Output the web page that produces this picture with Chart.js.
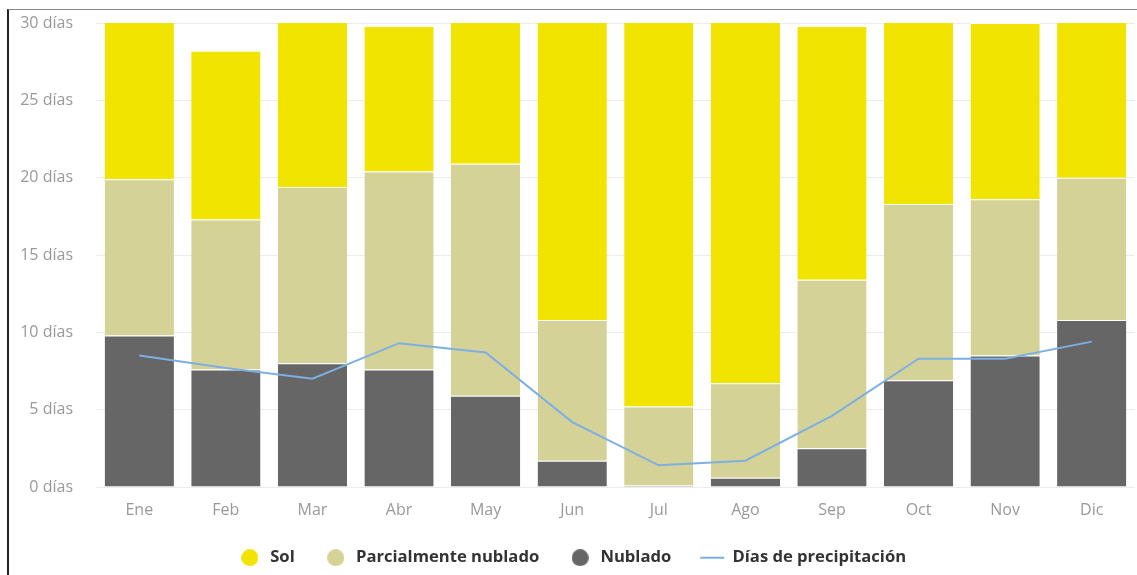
<!DOCTYPE html>
<html lang="es">
<head>
    <meta charset="UTF-8">
    <title>Clima mensual</title>
    <script src="https://cdn.jsdelivr.net/npm/chart.js"></script>
    <style>
        body { margin: 0; background: #fff; }
        .frame {
            position: absolute; left: 7px; top: 9px;
            width: 1128px; height: 565px;
            border-left: 2px solid #222; border-top: 1px solid #888;
        }
    </style>
</head>
<body>
<div class="frame"><canvas id="climaChart" width="1128" height="565"></canvas></div>

<script>
    const meses = ['Ene', 'Feb', 'Mar', 'Abr', 'May', 'Jun', 'Jul', 'Ago', 'Sep', 'Oct', 'Nov', 'Dic'];
    const nublado = [9.8, 7.6, 8.0, 7.6, 5.9, 1.7, 0.1, 0.6, 2.5, 6.9, 8.5, 10.8];
    const parcialmenteNublado = [10.1, 9.7, 11.4, 12.8, 15.0, 9.1, 5.1, 6.1, 10.9, 11.4, 10.1, 9.2];
    const sol = [11.1, 10.9, 11.6, 9.4, 10.1, 20.2, 25.8, 24.3, 16.4, 12.7, 11.4, 11.0];
    const precipitacion = [8.5, 7.7, 7.0, 9.3, 8.7, 4.2, 1.4, 1.7, 4.6, 8.3, 8.3, 9.4];
    const yTicks = [0, 5, 10, 15, 20, 25, 30];

    const colores = { sol: '#f0e400', parcial: '#d5d297', nublado: '#666666', lluvia: '#7cb0e2' };

    // orden de la leyenda: Sol, Parcialmente nublado, Nublado, precipitación
    const ordenLeyenda = [2, 1, 0, 3];

    // círculo de la leyenda como imagen, para poder ensanchar la caja sin deformarlo
    function circulo(color) {
        const c = document.createElement('canvas');
        c.width = 17; c.height = 17;
        const g = c.getContext('2d');
        g.fillStyle = color;
        g.beginPath();
        g.arc(8.5, 8.5, 8.5, 0, Math.PI * 2);
        g.fill();
        return c;
    }

    const barra = (label, data, color) => ({
        type: 'bar',
        label: label,
        data: data,
        backgroundColor: color,
        borderColor: '#ffffff',
        borderWidth: { top: 1, left: 0, right: 0, bottom: 0 },
        borderSkipped: 'start',
        stack: 'dias',
        order: 1,
        pointStyle: circulo(color)
    });

    const ctx = document.getElementById('climaChart').getContext('2d');
    new Chart(ctx, {
        data: {
            labels: meses,
            datasets: [
                barra('Nublado', nublado, colores.nublado),
                barra('Parcialmente nublado', parcialmenteNublado, colores.parcial),
                barra('Sol', sol, colores.sol),
                {
                    type: 'line',
                    label: 'Días de precipitación',
                    data: precipitacion,
                    borderColor: colores.lluvia,
                    backgroundColor: colores.lluvia,
                    borderWidth: 2,
                    pointRadius: 0,
                    tension: 0,
                    stack: 'lluvia',
                    order: 0,
                    pointStyle: 'line'
                }
            ]
        },
        options: {
            responsive: false,
            animation: false,
            layout: { padding: { left: 0, right: 2, top: 13, bottom: -1 } },
            datasets: {
                bar: { categoryPercentage: 1.0, barPercentage: 0.8 }
            },
            scales: {
                x: {
                    stacked: true,
                    grid: { display: false },
                    border: { display: false },
                    ticks: {
                        color: '#999',
                        padding: 6,
                        font: { family: 'Open Sans', size: 16 }
                    },
                    afterFit: (scale) => { scale.height = 33.4; }
                },
                y: {
                    stacked: true,
                    min: 0,
                    max: 30,
                    afterBuildTicks: (scale) => { scale.ticks = yTicks.map(v => ({ value: v })); },
                    // marca invisible para separar las etiquetas del área sin añadir relleno arriba
                    grid: { color: '#ececec', tickColor: 'transparent', tickLength: 23 },
                    border: { display: false },
                    ticks: {
                        color: '#999',
                        padding: 0,
                        font: { family: 'Open Sans', size: 16 },
                        callback: (v) => v + ' días'
                    },
                    afterFit: (scale) => { scale.width = 87; }
                }
            },
            plugins: {
                tooltip: { enabled: false },
                legend: {
                    position: 'bottom',
                    labels: {
                        usePointStyle: true,
                        pointStyleWidth: 24,
                        boxWidth: 24,
                        boxHeight: 12,
                        padding: 29,
                        color: '#333',
                        font: { family: 'Open Sans', size: 16.6, weight: 'bold' },
                        sort: (a, b) => ordenLeyenda.indexOf(a.datasetIndex) - ordenLeyenda.indexOf(b.datasetIndex)
                    }
                }
            }
        }
    });
</script>
</body>
</html>
